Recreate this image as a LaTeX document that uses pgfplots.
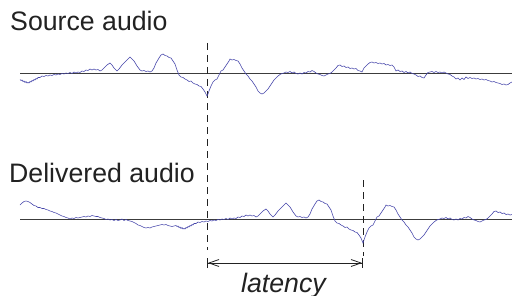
\documentclass[border=0pt]{standalone}
\usepackage{pgfplots}
\pgfplotsset{compat=1.18}
\usepackage{fontspec}
\setmainfont{Liberation Sans}
\usetikzlibrary{arrows.meta}
\definecolor{wave}{RGB}{70,70,170}
\definecolor{ink}{RGB}{34,34,34}
\definecolor{baseln}{RGB}{60,60,60}
\begin{document}
\begin{tikzpicture}
\begin{axis}[name=ax, scale only axis, width=512bp, height=296bp,
  xmin=0, xmax=512, ymin=0, ymax=296, y dir=reverse, hide axis, clip=false]
% baselines
\addplot[baseln, line width=0.8pt] coordinates {(20,73) (512,73)};
\addplot[baseln, line width=0.8pt] coordinates {(20,219) (512,219)};
% dashed markers
\addplot[ink, line width=1pt, dash pattern=on 7bp off 5bp] coordinates {(207,43) (207,250)};
\addplot[ink, line width=1pt, dash pattern=on 7bp off 5bp] coordinates {(363,180) (363,256)};
% source waveform
\addplot[wave, line width=0.6pt] coordinates {
(20,79.5) (21,80.5) (22,80) (23,81.5) (24,81) (25,82.5) (26,81.5) (27,83) (28,82.5) (29,83) (30,81.5) (31,82) (32,80.5) (33,81) (34,79.5) (35,80) (36,78.5) (37,79) (38,77.5) (40,77.5) (42,76) (44,76.5) (46,75.5) (48,76) (50,75) (52,75.5) (54,74.5) (56,75) (58,74) (60,74.5) (62,73.5) (64,74) (66,73) (68,73.5) (70,72.5) (72,73.5) (74,72) (76,73) (78,72) (80,72.5) (82,71) (84,71.5) (86,70) (88,70.5) (90,69) (92,70) (94,69) (96,70) (98,69.5) (100,71) (102,70) (104,68) (107,65) (110,63) (112,65) (114,68) (117,71) (119,69) (122,65) (125,62) (128,59) (130,57) (132,59) (134,61) (137,66) (140,70) (142,71) (144,70.5) (146,71.5) (148,71) (150,72) (152,71) (154,68) (156,63) (159,58) (161,55) (163,54) (165,55.5) (167,56) (169,57.5) (171,58) (173,61) (175,64) (177,70) (179,75) (181,77) (183,77.5) (185,79) (187,80) (189,81.5) (191,81) (193,83) (195,84) (197,84.5) (199,86) (201,86.5) (203,89) (205,92) (207,96) (208,94) (209,91) (211,86) (213,82) (215,80) (217,79) (219,75) (221,71) (223,70) (225,67) (227,64) (229,61) (230,59) (232,60) (234,59.5) (236,60.5) (238,61) (240,64) (242,68) (244,71) (246,74) (248,76) (250,79) (252,81) (254,84) (256,87) (258,91) (260,93) (262,94) (264,93) (266,91) (268,89) (270,86) (272,83) (274,80) (276,78) (278,76) (280,74.5) (282,73.5) (284,73) (286,72) (288,72.5) (290,71.5) (292,73) (294,72) (296,73.5) (298,74) (300,73) (302,74) (304,72.5) (306,73) (308,71.5) (310,72) (312,70.5) (314,71.5) (316,73) (318,74) (320,74.5) (322,75.5) (324,76) (326,75) (328,74) (330,73.5) (332,72) (334,70) (336,68) (338,65.5) (340,65) (342,66.5) (344,66) (346,67.5) (348,67) (350,68.5) (352,68) (354,69) (356,68.5) (358,70.5) (360,71) (362,72) (364,68) (366,66) (368,64) (370,62.5) (372,62) (374,63) (376,62.5) (378,63.5) (380,63) (382,64) (384,63.5) (386,65) (388,64.5) (390,65.5) (392,65) (394,67) (396,71) (398,70) (400,71.5) (402,71) (404,72.5) (406,71.5) (408,73) (410,72) (412,73.5) (414,74) (416,75) (418,76.5) (420,76) (422,77.5) (424,78) (426,75) (428,72.5) (430,72) (432,71.5) (434,72.5) (436,71.5) (438,72.5) (440,72) (442,73) (444,72) (446,73) (448,74) (450,74.5) (452,76) (454,77) (456,79) (458,78) (460,80) (462,78) (464,79.5) (466,77) (468,78.5) (470,77.5) (472,78.5) (474,78) (476,79) (478,78.5) (480,79.5) (482,79) (484,80) (486,79.5) (488,80.5) (490,81) (492,82) (494,81.5) (496,82.5) (498,83) (500,83.5) (502,84.5) (504,84) (506,85) (508,84.5) (510,83) (512,82)
};
% delivered waveform
\addplot[wave, line width=0.6pt] coordinates {
(20,205) (22,203) (24,201.5) (26,201) (28,201.5) (30,202.5) (32,204) (34,205.5) (36,206) (38,207.5) (40,207.5) (42,208.5) (44,208.5) (46,209.5) (48,210) (50,211) (52,211.5) (54,212.5) (56,213) (58,214) (60,215) (62,216) (64,216.5) (66,217.5) (68,218) (70,219) (72,218) (74,218.5) (76,217.5) (78,218) (80,217.5) (82,217) (84,216.5) (86,217) (88,216) (90,216.5) (92,215.5) (94,216) (96,216.5) (98,216.5) (100,217.5) (102,218) (104,218.5) (106,219.5) (108,219) (110,220) (112,219.5) (114,220.5) (116,219.5) (118,220.5) (120,220) (122,219) (124,220.5) (126,219.5) (128,220.5) (130,221) (132,221.5) (134,222.5) (136,223.5) (138,225) (140,225.5) (142,226.5) (144,227.5) (146,228) (148,227.5) (150,228) (152,227) (154,226.5) (156,226) (158,225.5) (160,225) (162,224.5) (164,225) (166,224.5) (168,225.5) (170,226) (172,226.5) (174,226)
(176,225.5) (177,226.5) (178,226) (179,227.5) (180,227) (181,228.5) (182,227.5) (183,229) (184,228.5) (185,229) (186,227.5) (187,228) (188,226.5) (189,227) (190,225.5) (191,226) (192,224.5) (193,225) (194,223.5) (196,223.5) (198,222) (200,222.5) (202,221.5) (204,222) (206,221) (208,221.5) (210,220.5) (212,221) (214,220) (216,220.5) (218,219.5) (220,220) (222,219) (224,219.5) (226,218.5) (228,219.5) (230,218) (232,219) (234,218) (236,218.5) (238,217) (240,217.5) (242,216) (244,216.5) (246,215) (248,216) (250,215) (252,216) (254,215.5) (256,217) (258,216) (260,214) (263,211) (266,209) (268,211) (270,214) (273,217) (275,215) (278,211) (281,208) (284,205) (286,203) (288,205) (290,207) (293,212) (296,216) (298,217) (300,216.5) (302,217.5) (304,217) (306,218) (308,217) (310,214) (312,209) (315,204) (317,201) (319,200) (321,201.5) (323,202) (325,203.5) (327,204) (329,207) (331,210) (333,216) (335,221) (337,223) (339,223.5) (341,225) (343,226) (345,227.5) (347,227) (349,229) (351,230) (353,230.5) (355,232) (357,232.5) (359,235) (361,238) (363,243) (364,240) (365,237) (367,232) (369,228) (371,226) (373,225) (375,221) (377,217) (379,216) (381,213) (383,210) (385,207) (386,205) (388,206) (390,205.5) (392,206.5) (394,207) (396,210) (398,214) (400,217) (402,220) (404,222) (406,225) (408,227) (410,230) (412,233) (414,237) (416,239) (418,240) (420,239) (422,237) (424,235) (426,232) (428,229) (430,226) (432,224) (434,222) (436,220.5) (438,219.5) (440,219) (442,218) (444,218.5) (446,217.5) (448,219) (450,218) (452,219.5) (454,220) (456,219) (458,220) (460,218.5) (462,219) (464,217.5) (466,218) (468,216.5) (470,217.5) (472,219) (474,220) (476,220.5) (478,221.5) (480,222) (482,221) (484,220) (486,219.5) (488,218) (490,216) (492,214) (494,211.5) (496,211) (498,212.5) (500,212) (502,213.5) (504,213) (506,214.5) (508,214) (510,215) (512,214.5)
};
% latency arrow
\draw[ink, line width=0.8pt,
  {Bar[width=10bp]Straight Barb[length=10bp,width=7bp,sep=0pt]}-{Straight Barb[length=10bp,width=7bp,sep=0pt]Bar[width=10bp]}]
  (axis cs:207,263) -- (axis cs:363,263);
% labels
\node[anchor=base west, inner sep=0pt, text=ink, font=\fontsize{26.8}{30}\selectfont] at (axis cs:10,31) {Source audio};
\node[anchor=base west, inner sep=0pt, text=ink, font=\fontsize{26.8}{30}\selectfont] at (axis cs:9,182) {Delivered audio};
\node[anchor=base west, inner sep=0pt, text=ink, font=\fontsize{26.8}{30}\selectfont\itshape] at (axis cs:241,292) {latency};
\end{axis}
\pgfresetboundingbox
\path (ax.south west) rectangle (ax.north east);
\end{tikzpicture}
\end{document}
